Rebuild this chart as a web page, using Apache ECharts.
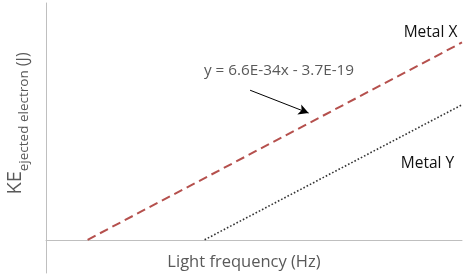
<!DOCTYPE html>
<html>
<head>
<meta charset="utf-8">
<script src="https://cdn.jsdelivr.net/npm/echarts@6/dist/echarts.min.js"></script>
<style>html,body{margin:0;padding:0;background:#fff}#c{width:470px;height:280px}</style>
</head>
<body>
<div id="c"></div>
<script>
// frequency in 1e14 Hz, kinetic energy in 1e-19 J
const metalXFreq = [5.6, 20];
const metalXKE = [0, 9.5];
const metalYFreq = [10.1, 20];
const metalYKE = [0, 6.5];
const arrowFrom = [11.85, 7.2];
const arrowTo = [14.1, 6.1];
const seriesNames = ['Metal X', 'Metal Y'];
const equationText = 'y = 6.6E-34x - 3.7E-19';
const xTitle = 'Light frequency (Hz)';
const yTitleMain = 'KE';
const yTitleSub = 'ejected electron';
const yTitleUnit = ' (J)';

const FONT = 'Open Sans';
const chart = echarts.init(document.getElementById('c'), null, {renderer: 'canvas'});
const pairs = (xs, ys) => xs.map((x, i) => [x, ys[i]]);
chart.setOption({
  animation: false,
  backgroundColor: '#fff',
  grid: {left: 46, right: 8, top: 3, bottom: 7, containLabel: false},
  xAxis: {
    type: 'value', min: 4, max: 20,
    axisLine: {show: true, onZero: true, lineStyle: {color: '#bfbfbf', width: 1}},
    axisTick: {show: false}, axisLabel: {show: false}, splitLine: {show: false}
  },
  yAxis: {
    type: 'value', min: -1.6, max: 11.4,
    axisLine: {show: true, onZero: false, lineStyle: {color: '#bfbfbf', width: 1}},
    axisTick: {show: false}, axisLabel: {show: false}, splitLine: {show: false}
  },
  series: [
    {
      name: seriesNames[0], type: 'line', data: pairs(metalXFreq, metalXKE),
      showSymbol: false, silent: true,
      lineStyle: {color: '#b5504d', width: 2, type: [9, 5]},
      markLine: {
        silent: true, symbol: ['none', 'arrow'], symbolSize: [8, 10],
        label: {show: false},
        lineStyle: {color: '#000', width: 1, type: 'solid'},
        data: [[{coord: arrowFrom}, {coord: arrowTo}]]
      }
    },
    {
      name: seriesNames[1], type: 'line', data: pairs(metalYFreq, metalYKE),
      showSymbol: false, silent: true,
      lineStyle: {color: '#333333', width: 1.6, type: [1.6, 2]}
    }
  ],
  graphic: [
    {type: 'text', x: 430.5, y: 33, style: {text: seriesNames[0], font: '15.5px "' + FONT + '"', fill: '#111', align: 'center', verticalAlign: 'middle'}},
    {type: 'text', x: 427.5, y: 164, style: {text: seriesNames[1], font: '15.5px "' + FONT + '"', fill: '#111', align: 'center', verticalAlign: 'middle'}},
    {type: 'text', x: 279, y: 71, style: {text: equationText, font: '15.3px "' + FONT + '"', fill: '#595959', align: 'center', verticalAlign: 'middle'}},
    {type: 'text', x: 244, y: 262, style: {text: xTitle, font: '16.5px "' + FONT + '"', fill: '#595959', align: 'center', verticalAlign: 'middle'}},
    {
      type: 'text', x: 18, y: 123.5, rotation: Math.PI / 2,
      style: {
        text: '{m|' + yTitleMain + '}{s|' + yTitleSub + '}{u|' + yTitleUnit + '}',
        align: 'center', verticalAlign: 'middle',
        rich: {
          m: {fontFamily: FONT, fontSize: 20, fill: '#595959', verticalAlign: 'bottom', padding: [0, 0, 6, 0]},
          s: {fontFamily: FONT, fontSize: 13.5, fill: '#595959', verticalAlign: 'bottom'},
          u: {fontFamily: FONT, fontSize: 16, fill: '#595959', verticalAlign: 'bottom'}
        }
      }
    }
  ]
});
</script>
</body>
</html>
